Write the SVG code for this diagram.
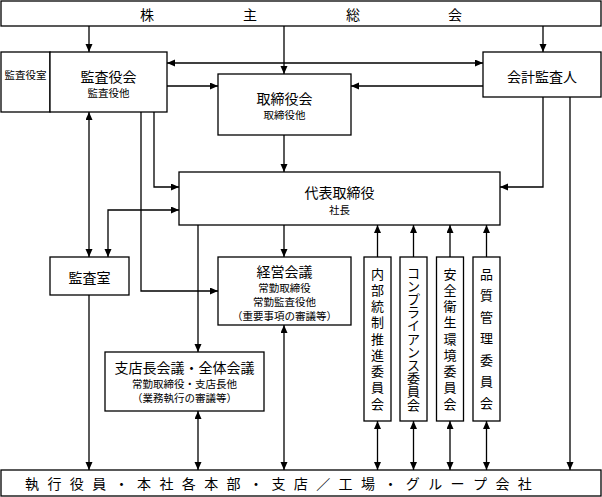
<svg xmlns="http://www.w3.org/2000/svg" width="602" height="497" viewBox="0 0 602 497">
<style>
.box{fill:#fff;stroke:#000;stroke-width:1.3}
.ln{fill:none;stroke:#000;stroke-width:1.3}
text{font-family:"Noto Sans CJK JP","Noto Sans CJK SC",sans-serif;fill:#000;dominant-baseline:central;text-anchor:middle}
.t14{font-size:14px}
.t10{font-size:10.5px}
.t13{font-size:13px}
</style>
<defs>
<marker id="ah" markerWidth="8" markerHeight="8" refX="8" refY="3.5" orient="auto-start-reverse" markerUnits="userSpaceOnUse">
<path d="M0,0 L8,3.5 L0,7 z" fill="#000"/>
</marker>
</defs>
<rect width="602" height="497" fill="#fff"/>

<g id="connectors">
<line class="ln" x1="89" y1="26" x2="89" y2="52" marker-end="url(#ah)"/>
<line class="ln" x1="284" y1="26" x2="284" y2="74" marker-end="url(#ah)"/>
<line class="ln" x1="543" y1="26" x2="543" y2="52" marker-end="url(#ah)"/>
<line class="ln" x1="167" y1="63" x2="483" y2="63" marker-start="url(#ah)" marker-end="url(#ah)"/>
<line class="ln" x1="167" y1="86" x2="218" y2="86" marker-end="url(#ah)"/>
<line class="ln" x1="483" y1="86" x2="351" y2="86" marker-end="url(#ah)"/>
<line class="ln" x1="284" y1="135" x2="284" y2="172" marker-end="url(#ah)"/>
<polyline class="ln" points="543,97 543,187 500,187" marker-end="url(#ah)"/>
<line class="ln" x1="570" y1="97" x2="570" y2="470" marker-end="url(#ah)"/>
<polyline class="ln" points="154,112 154,187 179,187" marker-end="url(#ah)"/>
<polyline class="ln" points="141,112 141,291 218,291" marker-end="url(#ah)"/>
<line class="ln" x1="89" y1="112" x2="89" y2="257" marker-start="url(#ah)" marker-end="url(#ah)"/>
<polyline class="ln" points="179,210 108,210 108,257" marker-start="url(#ah)" marker-end="url(#ah)"/>
<line class="ln" x1="284" y1="225" x2="284" y2="257" marker-end="url(#ah)"/>
<line class="ln" x1="198" y1="225" x2="198" y2="352" marker-end="url(#ah)"/>
<line class="ln" x1="89" y1="295" x2="89" y2="470" marker-end="url(#ah)"/>
<line class="ln" x1="284" y1="325" x2="284" y2="470" marker-start="url(#ah)" marker-end="url(#ah)"/>
<line class="ln" x1="198" y1="411" x2="198" y2="470" marker-start="url(#ah)" marker-end="url(#ah)"/>
<line class="ln" x1="377.5" y1="257" x2="377.5" y2="225" marker-end="url(#ah)"/>
<line class="ln" x1="413.5" y1="257" x2="413.5" y2="225" marker-end="url(#ah)"/>
<line class="ln" x1="450" y1="257" x2="450" y2="225" marker-end="url(#ah)"/>
<line class="ln" x1="486.5" y1="257" x2="486.5" y2="225" marker-end="url(#ah)"/>
<line class="ln" x1="377.5" y1="421" x2="377.5" y2="470" marker-start="url(#ah)" marker-end="url(#ah)"/>
<line class="ln" x1="413.5" y1="421" x2="413.5" y2="470" marker-start="url(#ah)" marker-end="url(#ah)"/>
<line class="ln" x1="450" y1="421" x2="450" y2="470" marker-start="url(#ah)" marker-end="url(#ah)"/>
<line class="ln" x1="486.5" y1="421" x2="486.5" y2="470" marker-start="url(#ah)" marker-end="url(#ah)"/>
</g>

<g id="shareholders">
<rect class="box" x="1" y="1" width="600" height="25"/>
<text class="t14" x="147 250 353 455" y="14">株主総会</text>
</g>

<g id="kansayakushitsu">
<rect class="box" x="1" y="52" width="49" height="60"/>
<text class="t10" x="25.5" y="74">監査役室</text>
</g>

<g id="kansayakukai">
<rect class="box" x="50" y="52" width="117" height="60"/>
<text class="t14" x="108.5" y="76">監査役会</text>
<text class="t10" x="108.5" y="92">監査役他</text>
</g>

<g id="torishimariyakukai">
<rect class="box" x="218" y="74" width="133" height="61"/>
<text class="t14" x="284.5" y="98">取締役会</text>
<text class="t10" x="284.5" y="114">取締役他</text>
</g>

<g id="kaikeikansanin">
<rect class="box" x="483" y="52" width="118" height="45"/>
<text class="t14" x="542" y="76">会計監査人</text>
</g>

<g id="daihyo">
<rect class="box" x="179" y="172" width="321" height="53"/>
<text class="t14" x="339.5" y="192">代表取締役</text>
<text class="t10" x="339.5" y="209">社長</text>
</g>

<g id="kansashitsu">
<rect class="box" x="50" y="257" width="79" height="38"/>
<text class="t14" x="89.5" y="277">監査室</text>
</g>

<g id="keieikaigi">
<rect class="box" x="218" y="257" width="133" height="68"/>
<text class="t14" x="284.5" y="271">経営会議</text>
<text class="t10" x="284.5" y="287">常勤取締役</text>
<text class="t10" x="284.5" y="301">常勤監査役他</text>
<text class="t10" x="284.5" y="315">（重要事項の審議等）</text>
</g>

<g id="shitencho">
<rect class="box" x="105" y="352" width="159" height="59"/>
<text class="t14" x="184.5" y="367">支店長会議・全体会議</text>
<text class="t10" x="184.5" y="383">常勤取締役・支店長他</text>
<text class="t10" x="184.5" y="397">（業務執行の審議等）</text>
</g>

<g id="naibutousei">
<rect class="box" x="364" y="257" width="27" height="164"/>
<text class="t13" x="377.5 377.5 377.5 377.5 377.5 377.5 377.5 377.5 377.5" y="273 289.25 305.5 321.75 338 354.25 370.5 386.75 403">内部統制推進委員会</text>
</g>

<g id="compliance">
<rect class="box" x="400" y="257" width="27" height="164"/>
<text class="t13" x="413.5 413.5 413.5 413.5 413.5 413.5 413.5 413.5 413.5 413.5 413.5" y="272 285.2 298.4 311.6 324.8 338 351.2 364.4 377.6 390.8 404">コンプライアンス委員会</text>
</g>

<g id="anzeneisei">
<rect class="box" x="436.5" y="257" width="27" height="164"/>
<text class="t13" x="450 450 450 450 450 450 450 450 450" y="273 289.25 305.5 321.75 338 354.25 370.5 386.75 403">安全衛生環境委員会</text>
</g>

<g id="hinshitsu">
<rect class="box" x="473" y="257" width="27" height="164"/>
<text class="t13" x="486.5 486.5 486.5 486.5 486.5 486.5 486.5" y="273 294.5 316 337.5 359 380.5 402">品質管理委員会</text>
</g>

<g id="shikko">
<rect class="box" x="1" y="470" width="600" height="26"/>
<text class="t14" x="32 54.4 76.8 99.2 121.6 144 166.4 188.8 211.2 233.6 256 278.4 300.8 323.2 345.6 368 390.4 412.8 435.2 457.6 480 502.4 524.8 547.2" y="483">執行役員・本社各本部・支店／工場・グループ会社</text>
</g>
</svg>
